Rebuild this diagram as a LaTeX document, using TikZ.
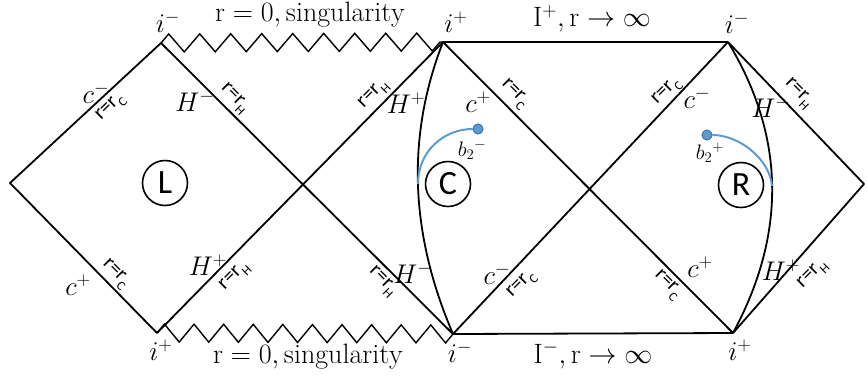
\RequirePackage{fix-cm}
\documentclass[tikz,border=0pt]{standalone}
\usepackage{fontspec}
\newfontfamily\calib{Carlito}
\usetikzlibrary{decorations.pathmorphing}
\definecolor{bl}{HTML}{5B9BD5}
\definecolor{bld}{HTML}{41719C}
\newcommand{\rr}[1]{r=r\raisebox{-0.3em}{\fontsize{13}{13}\selectfont #1}}
\tikzset{
 edge/.style={line width=1.8pt, line join=round},
 sing/.style={line width=1.4pt, decorate, decoration={zigzag, segment length=#1, amplitude=9pt}},
 mlab/.style={font=\fontsize{27}{30}\selectfont, inner sep=0pt},
 slab/.style={font=\fontsize{21}{24}\selectfont, inner sep=0pt},
 big/.style={font=\fontsize{28}{32}\selectfont, inner sep=0pt},
 rlab/.style={font=\calib\fontsize{21}{22}\selectfont, inner sep=0pt},
 region/.style={circle, draw, line width=1.6pt, minimum size=45pt, inner sep=0pt, font=\calib\fontsize{34}{34}\selectfont},
 bluearc/.style={draw=bl, line width=2pt},
 bdot/.style={circle, fill=bl, draw=bld, line width=0.8pt, minimum size=10pt, inner sep=0pt},
}
\begin{document}
\begin{tikzpicture}[x=1pt,y=-1pt]
\useasboundingbox (0,0) rectangle (867,376);
\coordinate (LL) at (10,183);
\coordinate (LT) at (161,43);
\coordinate (LB) at (157,333);
\coordinate (MT) at (443,42);
\coordinate (MB) at (453,334);
\coordinate (RT) at (728,42);
\coordinate (RB) at (733,333);
\coordinate (RR) at (864,184);
\coordinate (bC) at (418,184);
\coordinate (bR) at (772,186);
% edges
\draw[edge] (LT) -- (LL) -- (LB);
\draw[edge] (LT) -- (MB);
\draw[edge] (LB) -- (MT);
\draw[edge] (MT) -- (RT);
\draw[edge] (MB) -- (RB);
\draw[edge] (MT) -- (RB);
\draw[edge] (MB) -- (RT);
\draw[edge] (RT) -- (RR) -- (RB);
\draw[edge] (MT) .. controls (406,137) and (410,234) .. (MB);
\draw[edge] (RT) .. controls (785,136) and (787,233) .. (RB);
% singularities
\draw[sing=31pt] (LT) -- (MT);
\draw[sing=29.6pt] (LB) -- (MB);
% blue arcs
\node[bdot] (dC) at (478,129) {};
\node[bdot] (dR) at (707,135) {};
\draw[bluearc] (bC) .. controls (418,150) and (445,129) .. (dC.west);
\draw[bluearc] (dR.east) .. controls (740,135) and (770,160) .. (bR);
\node[bdot] at (dC) {};
\node[bdot] at (dR) {};
% regions
\node[region] (cL) at (165,183) {L};
\node[region] (cC) at (448,184) {C};
\node[region] (cR) at (741,185) {R};
% top / bottom labels
\node[mlab] (iTL) at (168,22) {$i^-$};
\node[big] (sTop) at (310,15) {$\mathrm{r}=0,\mathrm{singularity}$};
\node[mlab] (iTM) at (456,22) {$i^+$};
\node[big] (Ip) at (592,19) {$\mathrm{I}^+,\mathrm{r}\rightarrow\infty$};
\node[mlab] (iTR) at (737,23) {$i^-$};
\node[mlab] (iBL) at (161,350) {$i^+$};
\node[big] (sBot) at (308,357) {$\mathrm{r}=0,\mathrm{singularity}$};
\node[mlab] (iBM) at (460,352) {$i^-$};
\node[big] (Im) at (593,355) {$\mathrm{I}^-,\mathrm{r}\rightarrow\infty$};
\node[mlab] (iBR) at (740,350) {$i^+$};
% left diamond
\node[mlab] (cLm) at (96,93) {$c^-$};
\node[mlab] (HLm) at (195,101) {$H^-$};
\node[mlab] (cLp) at (78,285) {$c^+$};
\node[mlab] (HLp) at (208,265) {$H^+$};
% C region
\node[mlab] (HCp) at (406,103) {$H^+$};
\node[mlab] (cCp) at (478,102) {$c^+$};
\node[slab] (bCm) at (472,150) {$b_2{}^-$};
\node[mlab] (HCm) at (413,273) {$H^-$};
\node[mlab] (cCm) at (497,274) {$c^-$};
% R region
\node[mlab] (cRm) at (697,98) {$c^-$};
\node[mlab] (HRm) at (771,107) {$H^-$};
\node[slab] (bRp) at (710,153) {$b_2{}^+$};
\node[mlab] (cRp) at (700,267) {$c^+$};
\node[mlab] (HRp) at (781,270) {$H^+$};
% r = r labels
\node[rlab, rotate=45] (r1) at (111,108) {\rr{C}};
\node[rlab, rotate=-45] (r2) at (234,99) {\rr{H}};
\node[rlab, rotate=-45] (r3) at (115,274) {\rr{C}};
\node[rlab, rotate=45] (r4) at (235,277) {\rr{H}};
\node[rlab, rotate=45] (r5) at (374,95) {\rr{H}};
\node[rlab, rotate=-45] (r6) at (514,94) {\rr{C}};
\node[rlab, rotate=-45] (r7) at (382,282) {\rr{H}};
\node[rlab, rotate=45] (r8) at (522,285) {\rr{C}};
\node[rlab, rotate=45] (r9) at (667,92) {\rr{C}};
\node[rlab, rotate=-45] (r10) at (798,94) {\rr{H}};
\node[rlab, rotate=-45] (r11) at (667,285) {\rr{C}};
\node[rlab, rotate=45] (r12) at (813,275) {\rr{H}};
\end{tikzpicture}
\end{document}
